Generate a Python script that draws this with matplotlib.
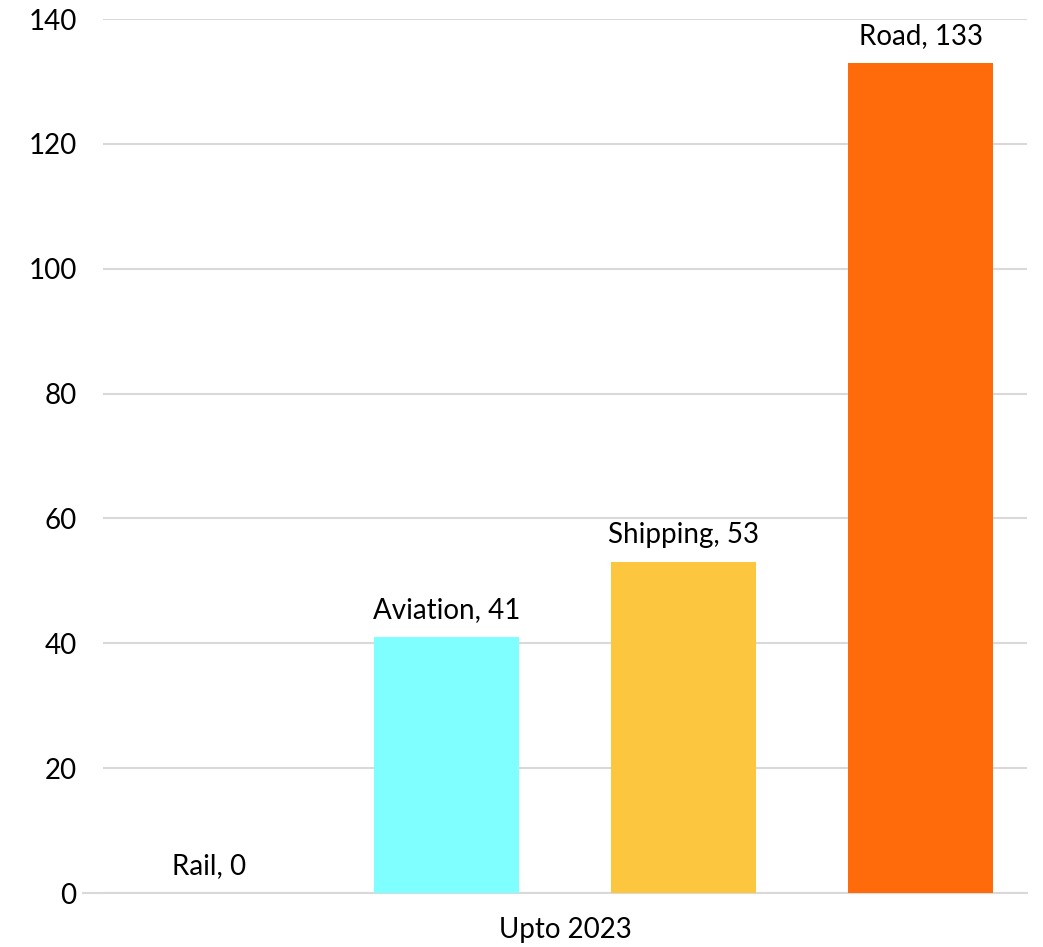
import matplotlib
matplotlib.use("Agg")
import matplotlib.pyplot as plt
from matplotlib.lines import Line2D

categories = ["Rail", "Aviation", "Shipping", "Road"]
values = [0, 41, 53, 133]
colors = ["#4472C4", "#7FFFFF", "#FCC73F", "#FF6A0A"]
group_label = "Upto 2023"
yticks = [0, 20, 40, 60, 80, 100, 120, 140]

plt.rcParams['font.family'] = ['Lato', 'DejaVu Sans']

fig = plt.figure(figsize=(10.43, 9.47), dpi=100)
ax = fig.add_axes([103/1043, 1-893/947, 924/1043, 874/947])

spacing = 0.2565
width = 0.157
for i, (cat, v, c) in enumerate(zip(categories, values, colors)):
    x = (i - 1.5) * spacing
    ax.bar(x, v, width=width, color=c, zorder=3)
    ax.annotate(f"{cat}, {v}", (x, v), xytext=(0, 10), textcoords="offset points",
                ha="center", va="bottom", fontsize=20, color="#000000")

ax.set_xlim(-0.5, 0.5)
ax.set_ylim(0, 140)
ax.set_yticks(yticks)
ax.set_yticklabels([str(t) for t in yticks], fontsize=20)
ax.set_xticks([0])
ax.set_xticklabels([group_label], fontsize=20)
ax.tick_params(axis="both", length=0)
ax.tick_params(axis="y", pad=19)
ax.tick_params(axis="x", pad=17)
ax.yaxis.grid(True, color="#D9D9D9", linewidth=1.5, zorder=0)
for s in ax.spines.values():
    s.set_visible(False)
ax.add_line(Line2D([-0.5 - 20/924, 0.5], [0, 0], color="#D9D9D9", linewidth=1.5, clip_on=False, zorder=2))

fig.savefig("out.png", dpi=100)
